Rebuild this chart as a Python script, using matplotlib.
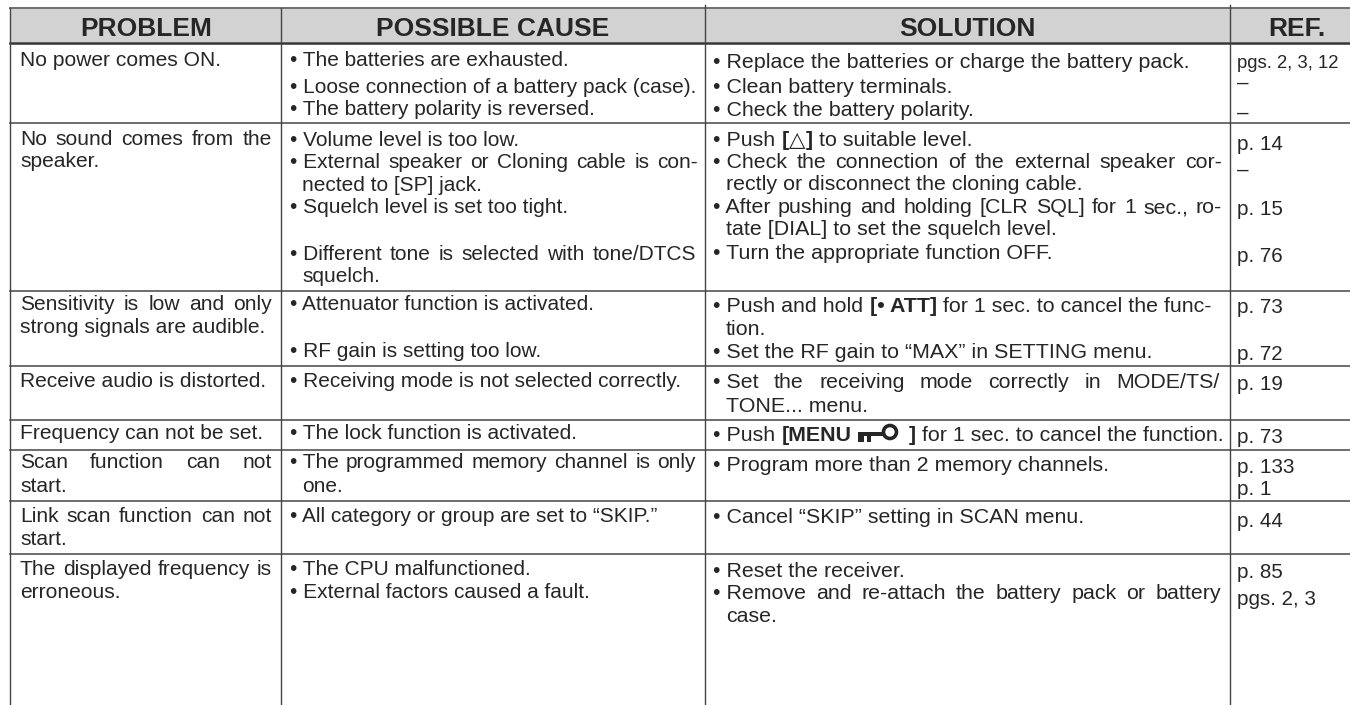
#!/usr/bin/env python3
"""Troubleshooting table from a receiver manual, drawn in pixel coordinates."""

import matplotlib
matplotlib.use("Agg")
import matplotlib.pyplot as plt
from matplotlib.patches import Circle, Rectangle

plt.rcParams["font.family"] = ["Liberation Sans", "DejaVu Sans"]

headers = ["PROBLEM", "POSSIBLE CAUSE", "SOLUTION", "REF."]

problem_lines = [
    "No power comes ON.",
    "No sound comes from the",
    "speaker.",
    "Sensitivity is low and only",
    "strong signals are audible.",
    "Receive audio is distorted.",
    "Frequency can not be set.",
    "Scan function can not",
    "start.",
    "Link scan function can not",
    "start.",
    "The displayed frequency is",
    "erroneous.",
]

cause_lines = [
    "• The batteries are exhausted.",
    "• Loose connection of a battery pack (case).",
    "• The battery polarity is reversed.",
    "• Volume level is too low.",
    "• External speaker or Cloning cable is con-",
    "  nected to [SP] jack.",
    "• Squelch level is set too tight.",
    "• Different tone is selected with tone/DTCS",
    "  squelch.",
    "• Attenuator function is activated.",
    "• RF gain is setting too low.",
    "• Receiving mode is not selected correctly.",
    "• The lock function is activated.",
    "• The programmed memory channel is only",
    "  one.",
    "• All category or group are set to “SKIP.”",
    "• The CPU malfunctioned.",
    "• External factors caused a fault.",
]

# bold runs are marked with a leading "*", KEY is the key icon
solution_lines = [
    ["• Replace the batteries or charge the battery pack."],
    ["• Clean battery terminals."],
    ["• Check the battery polarity."],
    ["• Push ", "*[", "△", "*]", " to suitable level."],
    ["• Check the connection of the external speaker cor-"],
    ["  rectly or disconnect the cloning cable."],
    ["• After pushing and holding [CLR SQL] for 1 sec., ro-"],
    ["  tate [DIAL] to set the squelch level."],
    ["• Turn the appropriate function OFF."],
    ["• Push and hold ", "*[• ATT]", " for 1 sec. to cancel the func-"],
    ["  tion."],
    ["• Set the RF gain to “MAX” in SETTING menu."],
    ["• Set the receiving mode correctly in MODE/TS/"],
    ["  TONE... menu."],
    ["• Push ", "*[MENU ", "KEY", "*]", " for 1 sec. to cancel the function."],
    ["• Program more than 2 memory channels."],
    ["• Cancel “SKIP” setting in SCAN menu."],
    ["• Reset the receiver."],
    ["• Remove and re-attach the battery pack or battery"],
    ["  case."],
]

ref_lines = [
    "pgs. 2, 3, 12", "–", "–", "p. 14", "–", "p. 15", "p. 76", "p. 73", "p. 72",
    "p. 19", "p. 73", "p. 133", "p. 1", "p. 44", "p. 85", "pgs. 2, 3",
]

# layout, in reference pixels
problem_y = [66, 145, 167, 310, 333, 387, 439, 468, 492, 522, 545, 575, 598]
problem_right = {1: 272, 3: 272, 7: 272, 9: 272, 11: 272}
cause_y = [66, 93, 115, 146, 168, 191, 213, 260, 282, 310, 357, 387, 439, 468, 492, 522, 575, 598]
cause_right = {4: 698, 7: 696, 13: 696}
solution_y = [68, 93, 116, 146, 168, 190, 213, 235, 259, 312, 335, 358, 388, 412, 441, 471, 523, 577, 599, 622]
solution_right = {4: 1222, 6: 1222, 12: 1220, 18: 1221}
ref_y = [68, 89, 119, 150, 176, 215, 262, 313, 360, 390, 443, 473, 495, 527, 578, 605]

column_x = [10, 281, 705, 1230]
row_y = [123, 291, 366, 420, 450, 501, 554]
BLACK = "#262626"
LINE = "#454545"

fig = plt.figure(figsize=(13.5, 7.05), dpi=100)
ax = fig.add_axes([0, 0, 1, 1])
ax.set_xlim(0, 1350)
ax.set_ylim(705, 0)
ax.axis("off")
renderer = fig.canvas.get_renderer()


def draw_key(x, y):
    # small key symbol, y is the text baseline
    ax.add_patch(Rectangle((x, y - 9), 27, 4, color=BLACK, lw=0))
    ax.add_patch(Rectangle((x, y - 9), 6, 10, color=BLACK, lw=0))
    ax.add_patch(Rectangle((x + 9, y - 9), 4, 10, color=BLACK, lw=0))
    ax.add_patch(Circle((x + 32, y - 9), 6.5, fc="white", ec=BLACK, lw=2.6))
    return 51


def put_line(x, y, runs, size, right=None):
    if isinstance(runs, str):
        runs = [runs]
    em = size * 100 / 72
    if right is not None and len(runs) == 1:
        # justified line, spread the words out up to the right edge
        words = runs[0].split(" ")
        if words[0] == "•":
            words = [words[0] + " " + words[1]] + words[2:]
        items = [ax.text(x, y, w, fontsize=size, color=BLACK, va="baseline") for w in words]
        widths = [t.get_window_extent(renderer).width for t in items]
        gap = (right - x - sum(widths)) / max(len(words) - 1, 1)
        cur = x
        for t, w in zip(items, widths):
            t.set_x(cur)
            cur += w + gap
        return
    cur = x
    for run in runs:
        if run == "KEY":
            cur += draw_key(cur, y)
            continue
        bold = run.startswith("*")
        s = run.lstrip("*")
        lead = (len(s) - len(s.lstrip(" "))) * 0.3 * em
        trail = (len(s) - len(s.rstrip(" "))) * 0.3 * em
        t = ax.text(cur + lead, y, s.strip(" "), fontsize=size, color=BLACK, va="baseline",
                    fontweight="bold" if bold else "normal")
        cur += lead + t.get_window_extent(renderer).width + trail


# header band and rules
ax.add_patch(Rectangle((10, 8), 1340, 34, fc="#d2d2d2", ec="none", zorder=0))
ax.plot([10, 1350], [8, 8], color="#707070", lw=1.4)
ax.plot([10, 1350], [42.5, 42.5], color="#333333", lw=1.8)
for y in row_y:
    ax.plot([10, 1350], [y, y], color=LINE, lw=1.1)
ax.plot([column_x[0]] * 2, [8, 705], color=LINE, lw=1.0)
ax.plot([column_x[1]] * 2, [8, 705], color=LINE, lw=1.0)
ax.plot([column_x[2]] * 2, [5, 705], color=LINE, lw=1.0)
ax.plot([column_x[3]] * 2, [5, 705], color=LINE, lw=1.0)

for label, cx in zip(headers, [146, 493, 967, 1297]):
    ax.text(cx, 36, label, fontsize=19, fontweight="bold", color=BLACK, ha="center", va="baseline")

for i, (line, y) in enumerate(zip(problem_lines, problem_y)):
    put_line(20, y, line, 15.1, problem_right.get(i))
for i, (line, y) in enumerate(zip(cause_lines, cause_y)):
    put_line(290, y, line, 15.0, cause_right.get(i))
for i, (line, y) in enumerate(zip(solution_lines, solution_y)):
    put_line(713, y, line, 15.4, solution_right.get(i))
for i, (line, y) in enumerate(zip(ref_lines, ref_y)):
    # the first reference is set narrower than the others
    put_line(1237, y, line, 13.3 if i == 0 else 14.9)

fig.savefig("out.png", dpi=100)
